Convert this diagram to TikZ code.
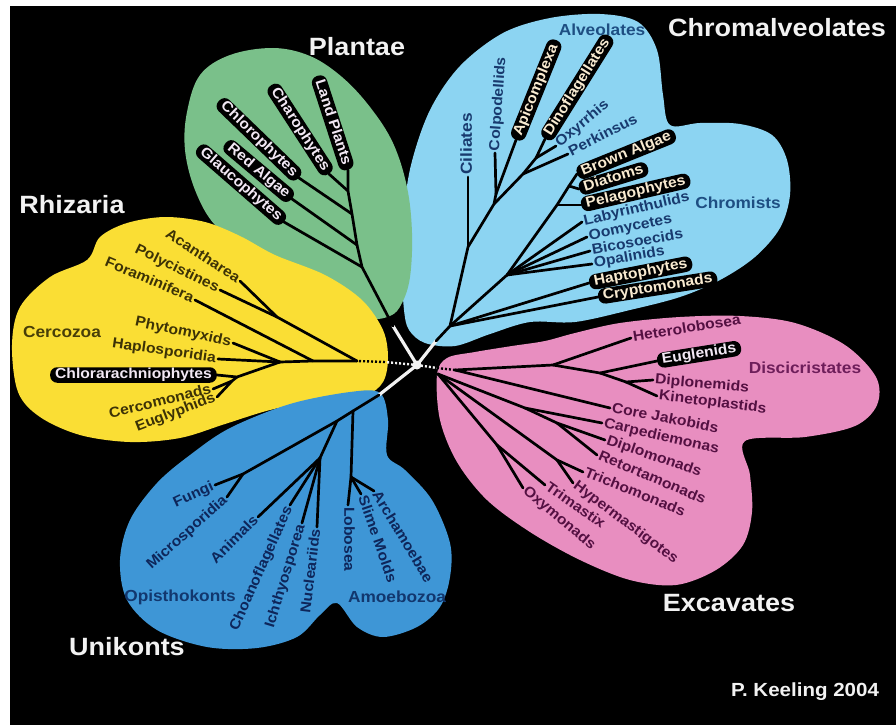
\documentclass[tikz,border=0pt]{standalone}
\usepackage{fontspec}
\setmainfont{Liberation Sans}[FakeStretch=1.08]
\definecolor{plantc}{RGB}{122,192,138}
\definecolor{chromc}{RGB}{140,212,242}
\definecolor{excc}{RGB}{232,142,192}
\definecolor{rhizc}{RGB}{250,222,52}
\definecolor{unic}{RGB}{62,150,214}
\definecolor{pltxt}{RGB}{242,232,244}
\definecolor{chtxt}{RGB}{24,58,110}
\definecolor{chbox}{RGB}{248,234,208}
\definecolor{rhtxt}{RGB}{60,50,6}
\definecolor{extxt}{RGB}{84,16,66}
\definecolor{untxt}{RGB}{14,38,90}
\definecolor{titlec}{RGB}{242,242,242}
\definecolor{chgrp}{RGB}{30,78,130}
\definecolor{rhgrp}{RGB}{72,62,8}
\definecolor{exgrp}{RGB}{110,30,90}
\definecolor{ungrp}{RGB}{18,55,110}
\begin{document}
\begin{tikzpicture}[x=1pt,y=-1pt,
  br/.style={line width=2.7pt, line cap=round, line join=round, draw=black},
  wbr/.style={line width=3.2pt, line cap=round, draw=titlec},
  lab/.style={font=\fontsize{14.5}{14.5}\selectfont\bfseries, inner xsep=2pt, inner ysep=0.5pt, text height=10pt, text depth=2.5pt},
  pill/.style={lab, fill=black, rounded corners=7pt, inner xsep=5pt, inner ysep=1.5pt},
  grp/.style={font=\fontsize{16}{16}\selectfont\bfseries, inner sep=0pt},
  ttl/.style={font=\fontsize{25}{25}\selectfont\bfseries, text=titlec, inner sep=0pt},
]
\useasboundingbox (0,0) rectangle (896,725);
\fill[white] (0,0) rectangle (896,725);
\fill[black] (10,6) rectangle (896,725);

% ---------- coloured areas ----------
\fill[chromc] plot[smooth cycle, tension=0.55] coordinates {
 (404,310) (402,270) (403,220) (411,165) (430,110) (460,66) (503,33) (550,18)
 (600,14) (638,22) (657,50) (663,95) (670,125) (700,123) (740,124) (772,135)
 (787,160) (790,195) (780,228) (755,257) (720,280) (680,297) (630,310)
 (575,322) (530,322) (490,334) (455,346) (425,343) (409,330)};
\fill[plantc] plot[smooth cycle, tension=0.6] coordinates {
 (187,112) (200,75) (230,55) (273,48) (310,56) (342,77) (370,107) (393,143)
 (407,187) (412,233) (410,277) (402,303) (390,316) (365,318) (330,300)
 (290,275) (250,250) (215,225) (195,190) (185,150)};
\fill[excc] plot[smooth cycle, tension=0.55] coordinates {
 (437,375) (447,358) (475,352) (512,346) (545,341) (575,333) (620,323)
 (680,317) (740,316) (795,323) (845,345) (876,377) (877,405) (855,426)
 (805,437) (745,441) (750,475) (752,512) (743,545) (716,570) (676,585)
 (630,580) (580,560) (530,532) (487,500) (457,462) (440,420)};
\fill[rhizc] plot[smooth cycle, tension=0.55] coordinates {
 (12,345) (20,307) (50,277) (87,260) (100,237) (127,223) (165,217) (205,222)
 (240,236) (275,255) (325,275) (362,300) (383,330) (388,358) (383,382)
 (365,395) (320,400) (270,410) (225,424) (180,438) (130,442) (80,435)
 (40,417) (18,392)};
\fill[unic] plot[smooth cycle, tension=0.55] coordinates {
 (380,393) (388,420) (387,455) (405,470) (432,500) (450,543) (450,577)
 (440,607) (417,627) (383,637) (357,627) (337,603) (320,615) (297,637)
 (257,648) (207,647) (157,630) (127,600) (120,560) (130,520) (157,483)
 (190,455) (230,428) (290,404) (350,392)};

% ---------- centre ----------
\coordinate (pRoot) at (393,326);
\coordinate (cRoot) at (436,341);
\coordinate (uRoot) at (379,395);
\coordinate (rDot) at (385,362);
\coordinate (rRoot) at (357,361);
\coordinate (eDot) at (437,368);
\coordinate (eRoot) at (455,370);
\draw[wbr] (417,365) -- (pRoot);
\draw[wbr] (417,365) -- (cRoot);
\draw[wbr] (417,365) -- (uRoot);
\draw[titlec, line width=2.4pt, dash pattern=on 2pt off 2pt] (417,365) -- (rDot);
\draw[black, line width=2.4pt, dash pattern=on 2pt off 2pt] (rDot) -- (rRoot);
\draw[titlec, line width=2.4pt, dash pattern=on 2pt off 2pt] (417,365) -- (eDot);
\draw[black, line width=2.4pt, dash pattern=on 2pt off 2pt] (eDot) -- (eRoot);
\node[circle, fill=titlec, minimum size=9pt, inner sep=0pt] (ctr) at (417,365) {};

% ---------- Plantae ----------
\coordinate (pJ1) at (362,267);
\coordinate (pJ2) at (357,245);
\coordinate (pJ3) at (352,214);
\coordinate (pJ4) at (348,191);
\coordinate (pLand) at (348,170);
\coordinate (pGlaL) at (284,222);
\coordinate (pRedL) at (292,199);
\coordinate (pChlL) at (299,178);
\coordinate (pChaL) at (329,174);
\draw[br] (pRoot) -- (pJ1) -- (pJ2) -- (pJ3) -- (pJ4) -- (pLand);
\draw[br] (pJ1) -- (pGlaL);
\draw[br] (pJ2) -- (pRedL);
\draw[br] (pJ3) -- (pChlL);
\draw[br] (pJ4) -- (pChaL);
\node[pill, text=pltxt, anchor=east, rotate=-41] (tGla) at (pGlaL) {Glaucophytes};
\node[pill, text=pltxt, anchor=east, rotate=-40] (tRed) at (pRedL) {Red Algae};
\node[pill, text=pltxt, anchor=east, rotate=-44] (tChl) at (pChlL) {Chlorophytes};
\node[pill, text=pltxt, anchor=east, rotate=-57] (tCha) at (pChaL) {Charophytes};
\node[pill, text=pltxt, anchor=east, rotate=-72] (tLand) at (pLand) {Land Plants};

% ---------- Chromalveolates ----------
\coordinate (cR) at (450,326);
\coordinate (cA1) at (468,247);
\coordinate (cA2) at (494,204);
\coordinate (cA3) at (496,194);
\coordinate (cD1) at (523,174);
\coordinate (cD2) at (536,158);
\coordinate (cC1) at (507,275);
\coordinate (cS1) at (557,205);
\coordinate (cS2) at (569,186);
\coordinate (cCilL) at (468,177);
\coordinate (cColL) at (495,153);
\coordinate (cApiL) at (516,140);
\coordinate (cDinL) at (545,139);
\coordinate (cOxyL) at (556,146);
\coordinate (cPerL) at (568,154);
\coordinate (cBroL) at (577,174);
\coordinate (cDiaL) at (579,189);
\coordinate (cPelL) at (581,205);
\coordinate (cLabL) at (582,222);
\coordinate (cOomL) at (587,237);
\coordinate (cBicL) at (590,251);
\coordinate (cOpaL) at (592,264);
\coordinate (cHapL) at (589,283);
\coordinate (cCryL) at (598,297);
\draw[br] (cRoot) -- (cR) -- (cA1) -- (cA2) -- (cA3);
\draw[br] (cA1) -- (cCilL);
\draw[br] (cA3) -- (cColL);
\draw[br] (cA3) -- (cApiL);
\draw[br] (cA2) -- (cD1) -- (cD2) -- (cDinL);
\draw[br] (cD2) -- (cOxyL);
\draw[br] (cD1) -- (cPerL);
\draw[br] (cR) -- (cC1) -- (cS1) -- (cS2) -- (cBroL);
\draw[br] (cS2) -- (cDiaL);
\draw[br] (cS1) -- (cPelL);
\draw[br] (cC1) -- (cLabL);
\draw[br] (cC1) -- (cOomL);
\draw[br] (cC1) -- (cBicL);
\draw[br] (cC1) -- (cOpaL);
\draw[br] (cR) -- (cHapL);
\draw[br] (cR) -- (cCryL);
\node[lab, text=chtxt, anchor=west, rotate=90, font=\fontsize{16}{16}\selectfont\bfseries] (tCil) at (cCilL) {Ciliates};
\node[lab, text=chtxt, anchor=west, rotate=86] (tCol) at (cColL) {Colpodellids};
\node[pill, text=chbox, anchor=west, rotate=68] (tApi) at (cApiL) {Apicomplexa};
\node[pill, text=chbox, anchor=west, rotate=58] (tDin) at (cDinL) {Dinoflagellates};
\node[lab, text=chtxt, anchor=west, rotate=40] (tOxy) at (cOxyL) {Oxyrrhis};
\node[lab, text=chtxt, anchor=west, rotate=27] (tPer) at (cPerL) {Perkinsus};
\node[pill, text=chbox, anchor=west, rotate=22] (tBro) at (cBroL) {Brown Algae};
\node[pill, text=chbox, anchor=west, rotate=17] (tDia) at (cDiaL) {Diatoms};
\node[pill, text=chbox, anchor=west, rotate=13] (tPel) at (cPelL) {Pelagophytes};
\node[lab, text=chtxt, anchor=west, rotate=13] (tLab) at (cLabL) {Labyrinthulids};
\node[lab, text=chtxt, anchor=west, rotate=12] (tOom) at (cOomL) {Oomycetes};
\node[lab, text=chtxt, anchor=west, rotate=10] (tBic) at (cBicL) {Bicosoecids};
\node[lab, text=chtxt, anchor=west, rotate=10] (tOpa) at (cOpaL) {Opalinids};
\node[pill, text=chbox, anchor=west, rotate=11] (tHap) at (cHapL) {Haptophytes};
\node[pill, text=chbox, anchor=west, rotate=9] (tCry) at (cCryL) {Cryptomonads};
\node[grp, text=chgrp] (gAlv) at (602,30) {Alveolates};
\node[grp, text=chgrp] (gChr) at (738,203) {Chromists};

% ---------- Rhizaria ----------
\coordinate (rRad) at (277,317);
\coordinate (rF) at (313,361);
\coordinate (rC) at (280,362);
\coordinate (rC2) at (237,377);
\coordinate (rC3) at (232,381);
\coordinate (rAcaL) at (240,281);
\coordinate (rPolL) at (220,290);
\coordinate (rForL) at (195,300);
\coordinate (rPhyL) at (233,343);
\coordinate (rHapL) at (218,359);
\coordinate (rChlL) at (217,375);
\coordinate (rCerL) at (213,389);
\coordinate (rEugL) at (217,397);
\draw[br] (rRoot) -- (rF) -- (rC);
\draw[br] (rRoot) -- (rRad) -- (rAcaL);
\draw[br] (rRad) -- (rPolL);
\draw[br] (rF) -- (rForL);
\draw[br] (rC) -- (rPhyL);
\draw[br] (rC) -- (rHapL);
\draw[br] (rC) -- (rC2) -- (rChlL);
\draw[br] (rC2) -- (rC3) -- (rCerL);
\draw[br] (rC3) -- (rEugL);
\node[lab, text=rhtxt, anchor=east, rotate=-33] (tAca) at (rAcaL) {Acantharea};
\node[lab, text=rhtxt, anchor=east, rotate=-26] (tPol) at (rPolL) {Polycistines};
\node[lab, text=rhtxt, anchor=east, rotate=-23] (tFor) at (rForL) {Foraminifera};
\node[lab, text=rhtxt, anchor=east, rotate=-12] (tPhy) at (rPhyL) {Phytomyxids};
\node[lab, text=rhtxt, anchor=east, rotate=-8] (tHap) at (rHapL) {Haplosporidia};
\node[pill, text=pltxt, anchor=east] (tChlr) at (rChlL) {Chlorarachniophytes};
\node[lab, text=rhtxt, anchor=east, rotate=14] (tCer) at (rCerL) {Cercomonads};
\node[lab, text=rhtxt, anchor=east, rotate=21] (tEug) at (rEugL) {Euglyphids};
\node[grp, text=rhgrp] (gCer) at (62,332) {Cercozoa};

% ---------- Excavates ----------
\coordinate (eFan) at (438,374);
\coordinate (eH) at (553,365);
\coordinate (eE) at (600,373);
\coordinate (eK) at (626,382);
\coordinate (eF1) at (525,408);
\coordinate (eF2) at (557,423);
\coordinate (eP1) at (557,460);
\coordinate (eX1) at (497,445);
\coordinate (eHetL) at (631,338);
\coordinate (eEugL) at (657,361);
\coordinate (eDipL) at (653,380);
\coordinate (eKinL) at (657,396);
\coordinate (eJakL) at (610,408);
\coordinate (eCarL) at (602,423);
\coordinate (eDplL) at (605,440);
\coordinate (eRetL) at (597,455);
\coordinate (eTriL) at (583,472);
\coordinate (eHypL) at (573,483);
\coordinate (eTrmL) at (545,485);
\coordinate (eOxyL) at (523,488);
\draw[br] (eRoot) -- (eH) -- (eHetL);
\draw[br] (eH) -- (eE) -- (eEugL);
\draw[br] (eE) -- (eK) -- (eDipL);
\draw[br] (eK) -- (eKinL);
\draw[br] (eRoot) -- (eJakL);
\draw[br] (eFan) -- (eF1) -- (eCarL);
\draw[br] (eF1) -- (eF2) -- (eDplL);
\draw[br] (eF2) -- (eRetL);
\draw[br] (eFan) -- (eP1) -- (eTriL);
\draw[br] (eP1) -- (eHypL);
\draw[br] (eFan) -- (eX1) -- (eTrmL);
\draw[br] (eX1) -- (eOxyL);
\node[lab, text=extxt, anchor=west, rotate=9] (tHet) at (eHetL) {Heterolobosea};
\node[pill, text=pltxt, anchor=west, rotate=9] (tEgl) at (eEugL) {Euglenids};
\node[lab, text=extxt, anchor=west, rotate=-5] (tDip) at (eDipL) {Diplonemids};
\node[lab, text=extxt, anchor=west, rotate=-7] (tKin) at (eKinL) {Kinetoplastids};
\node[lab, text=extxt, anchor=west, rotate=-11] (tJak) at (eJakL) {Core Jakobids};
\node[lab, text=extxt, anchor=west, rotate=-13] (tCar) at (eCarL) {Carpediemonas};
\node[lab, text=extxt, anchor=west, rotate=-19] (tDpl) at (eDplL) {Diplomonads};
\node[lab, text=extxt, anchor=west, rotate=-23] (tRet) at (eRetL) {Retortamonads};
\node[lab, text=extxt, anchor=west, rotate=-22] (tTri) at (eTriL) {Trichomonads};
\node[lab, text=extxt, anchor=west, rotate=-37] (tHyp) at (eHypL) {Hypermastigotes};
\node[lab, text=extxt, anchor=west, rotate=-35] (tTrm) at (eTrmL) {Trimastix};
\node[lab, text=extxt, anchor=west, rotate=-40] (tOxm) at (eOxyL) {Oxymonads};
\node[grp, text=exgrp] (gDis) at (805,368) {Discicristates};

% ---------- Unikonts ----------
\coordinate (uA) at (353,411);
\coordinate (uO) at (337,421);
\coordinate (uL1) at (351,477);
\coordinate (uFu) at (243,474);
\coordinate (uH) at (320,458);
\coordinate (uLobL) at (348,505);
\coordinate (uSliL) at (361,494);
\coordinate (uArcL) at (374,491);
\coordinate (uFunL) at (215,485);
\coordinate (uMicL) at (227,497);
\coordinate (uAniL) at (258,517);
\coordinate (uChoL) at (290,505);
\coordinate (uIchL) at (302,523);
\coordinate (uNucL) at (317,527);
\draw[br] (uRoot) -- (uA) -- (uO) -- (uFu) -- (uFunL);
\draw[br] (uFu) -- (uMicL);
\draw[br] (uA) -- (uL1) -- (uLobL);
\draw[br] (uL1) -- (uSliL);
\draw[br] (uL1) -- (uArcL);
\draw[br] (uO) -- (uH) -- (uAniL);
\draw[br] (uH) -- (uChoL);
\draw[br] (uH) -- (uIchL);
\draw[br] (uH) -- (uNucL);
\node[lab, text=untxt, anchor=east, rotate=25] (tFun) at (uFunL) {Fungi};
\node[lab, text=untxt, anchor=east, rotate=42] (tMic) at (uMicL) {Microsporidia};
\node[lab, text=untxt, anchor=east, rotate=45] (tAni) at (uAniL) {Animals};
\node[lab, text=untxt, anchor=east, rotate=66] (tCho) at (uChoL) {Choanoflagellates};
\node[lab, text=untxt, anchor=east, rotate=73] (tIch) at (uIchL) {Ichthyosporea};
\node[lab, text=untxt, anchor=east, rotate=83] (tNuc) at (uNucL) {Nucleariids};
\node[lab, text=untxt, anchor=west, rotate=-90] (tLob) at (uLobL) {Lobosea};
\node[lab, text=untxt, anchor=west, rotate=-71] (tSli) at (uSliL) {Slime Molds};
\node[lab, text=untxt, anchor=west, rotate=-59] (tArc) at (uArcL) {Archamoebae};
\node[grp, text=ungrp] (gOpi) at (180,597) {Opisthokonts};
\node[grp, text=ungrp] (gAmo) at (397,597) {Amoebozoa};

% ---------- titles ----------
\node[ttl] (tiPla) at (357,47) {Plantae};
\node[ttl] (tiChr) at (777,28) {Chromalveolates};
\node[ttl] (tiRhi) at (72,205) {Rhizaria};
\node[ttl] (tiExc) at (729,603) {Excavates};
\node[ttl] (tiUni) at (127,647) {Unikonts};
\node[font=\fontsize{19}{19}\selectfont\bfseries, text=titlec, inner sep=0pt] (sig) at (805,692) {P. Keeling 2004};
\end{tikzpicture}
\end{document}
